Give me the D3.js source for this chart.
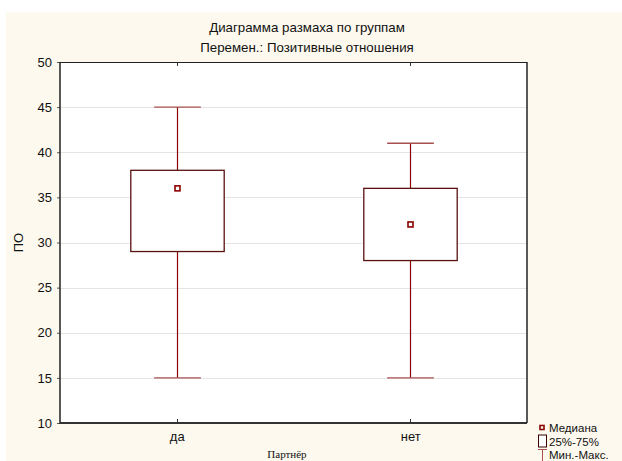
<!DOCTYPE html>
<html lang="ru">
<head>
<meta charset="UTF-8">
<title>Диаграмма размаха по группам</title>
<script src="https://d3js.org/d3.v7.min.js"></script>
<style>
    body { margin: 0; background: #fff; }
    text { font-family: "Liberation Sans", Arial, sans-serif; fill: #111; }
</style>
</head>
<body>
<script>
    // Data
    const groups = ["да", "нет"];
    const mins = [15, 15];
    const q1 = [29, 28];
    const medians = [36, 32];
    const q3 = [38, 36];
    const maxs = [45, 41];
    const yTicks = [10, 15, 20, 25, 30, 35, 40, 45, 50];
    const legendLabels = ["Медиана", "25%-75%", "Мин.-Макс."];

    const width = 622, height = 461;
    const margin = {top: 62, right: 95, bottom: 38, left: 60};
    const pw = width - margin.left - margin.right;
    const ph = height - margin.top - margin.bottom;

    const boxStroke = "#5a1010";
    const whisk = "#8b0000";

    const svg = d3.select("body").append("svg")
        .attr("width", width)
        .attr("height", height);

    // cream backdrop
    svg.append("rect")
        .attr("x", 6).attr("y", 12)
        .attr("width", width - 6).attr("height", height - 12)
        .attr("fill", "#fdf9ee");

    svg.append("text")
        .attr("x", 307).attr("y", 32)
        .attr("text-anchor", "middle")
        .style("font-size", "13.3px")
        .text("Диаграмма размаха по группам");
    svg.append("text")
        .attr("x", 307).attr("y", 52)
        .attr("text-anchor", "middle")
        .style("font-size", "13.3px")
        .text("Перемен.: Позитивные отношения");

    const x = d3.scalePoint().domain(groups).range([0, pw]).padding(0.5);
    const y = d3.scaleLinear().domain([10, 50]).range([ph, 0]);

    const g = svg.append("g").attr("transform", `translate(${margin.left},${margin.top})`);

    g.append("rect")
        .attr("width", pw).attr("height", ph)
        .attr("fill", "#fff");

    // grid
    g.selectAll("line.grid")
        .data(yTicks.slice(1, -1))
        .enter().append("line")
        .attr("class", "grid")
        .attr("x1", 0).attr("x2", pw)
        .attr("y1", d => Math.round(y(d)) + 0.5)
        .attr("y2", d => Math.round(y(d)) + 0.5)
        .attr("stroke", "#e4e4e4");

    // y axis labels and ticks
    const yAxis = d3.axisLeft(y).tickValues(yTicks).tickSize(3).tickPadding(5);
    const ya = g.append("g").call(yAxis);
    ya.select(".domain").remove();
    ya.selectAll("line").attr("stroke", "#555");
    ya.selectAll("text")
        .style("font-size", "13px")
        .style("font-family", "'Liberation Sans', Arial, sans-serif")
        .attr("fill", "#111");

    // x category labels
    const xAxis = d3.axisBottom(x).tickSize(0).tickPadding(9);
    const xa = g.append("g").attr("transform", `translate(0,${ph})`).call(xAxis);
    xa.select(".domain").remove();
    xa.selectAll("text")
        .style("font-size", "13px")
        .style("font-family", "'Liberation Sans', Arial, sans-serif")
        .attr("fill", "#111");

    // inner x ticks at top and bottom
    groups.forEach(gr => {
        const cx = Math.round(x(gr)) + 0.5;
        g.append("line").attr("x1", cx).attr("x2", cx).attr("y1", 0).attr("y2", 4).attr("stroke", "#333");
        g.append("line").attr("x1", cx).attr("x2", cx).attr("y1", ph).attr("y2", ph - 4).attr("stroke", "#333");
    });

    const boxW = pw * 0.1;
    const capW = pw * 0.05;

    groups.forEach((gr, i) => {
        const cx = Math.round(x(gr)) + 0.5;
        // whiskers
        g.append("line")
            .attr("x1", cx).attr("x2", cx)
            .attr("y1", y(maxs[i])).attr("y2", y(q3[i]))
            .attr("stroke", whisk).attr("stroke-width", 1.2);
        g.append("line")
            .attr("x1", cx).attr("x2", cx)
            .attr("y1", y(q1[i])).attr("y2", y(mins[i]))
            .attr("stroke", whisk).attr("stroke-width", 1.2);
        // caps
        [maxs[i], mins[i]].forEach(v => {
            g.append("line")
                .attr("x1", cx - capW).attr("x2", cx + capW)
                .attr("y1", y(v)).attr("y2", y(v))
                .attr("stroke", "#a85050").attr("stroke-width", 1.4);
        });
        // box
        g.append("rect")
            .attr("x", cx - boxW).attr("y", y(q3[i]))
            .attr("width", boxW * 2).attr("height", y(q1[i]) - y(q3[i]))
            .attr("fill", "#fff")
            .attr("stroke", boxStroke).attr("stroke-width", 1.3);
        // median
        g.append("rect")
            .attr("x", cx - 2.5).attr("y", y(medians[i]) - 2.5)
            .attr("width", 5).attr("height", 5)
            .attr("fill", "#fff")
            .attr("stroke", "#8b0000").attr("stroke-width", 1.6);
    });

    // frame
    g.append("line").attr("x1", 0).attr("x2", pw).attr("y1", 0.5).attr("y2", 0.5).attr("stroke", "#222");
    g.append("line").attr("x1", pw).attr("x2", pw).attr("y1", 0).attr("y2", ph).attr("stroke", "#222").attr("stroke-width", 1.5);
    g.append("line").attr("x1", 0).attr("x2", 0).attr("y1", 0).attr("y2", ph + 1).attr("stroke", "#222").attr("stroke-width", 1.5);
    g.append("line").attr("x1", 0).attr("x2", pw).attr("y1", ph).attr("y2", ph).attr("stroke", "#333").attr("stroke-width", 2);

    // axis titles
    svg.append("text")
        .attr("transform", `translate(23,${margin.top + ph / 2}) rotate(-90)`)
        .attr("text-anchor", "middle")
        .style("font-size", "13px")
        .text("ПО");
    svg.append("text")
        .attr("x", 287).attr("y", 458)
        .attr("text-anchor", "middle")
        .style("font-family", "'Liberation Serif', 'Times New Roman', serif")
        .style("font-size", "11px")
        .text("Партнёр");

    // legend
    const lg = svg.append("g").attr("transform", "translate(538,421)");
    const rowH = 13.5;
    lg.append("rect").attr("x", 2).attr("y", 4.5).attr("width", 4).attr("height", 4)
        .attr("fill", "#fff").attr("stroke", "#8b0000").attr("stroke-width", 1.6);
    lg.append("rect").attr("x", 0.5).attr("y", rowH + 0.5).attr("width", 8).attr("height", 12)
        .attr("fill", "#fff").attr("stroke", "#3a0000");
    lg.append("line").attr("x1", 0).attr("x2", 9).attr("y1", 2 * rowH + 1.5).attr("y2", 2 * rowH + 1.5).attr("stroke", "#b05050");
    lg.append("line").attr("x1", 4.5).attr("x2", 4.5).attr("y1", 2 * rowH + 1).attr("y2", 2 * rowH + 13).attr("stroke", "#b05050");
    lg.selectAll("text.leg")
        .data(legendLabels)
        .enter().append("text")
        .attr("class", "leg")
        .attr("x", 11)
        .attr("y", (d, i) => 11 + i * rowH)
        .style("font-size", "11.5px")
        .text(d => d);
</script>
</body>
</html>
